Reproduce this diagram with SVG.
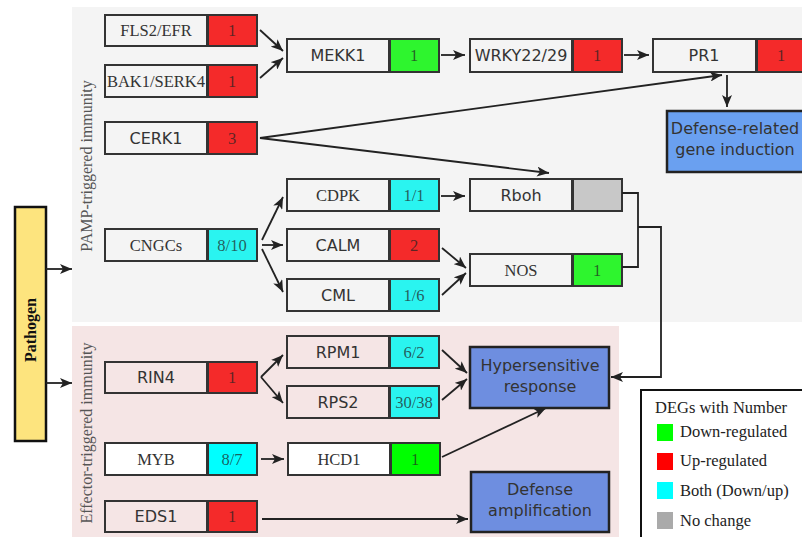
<svg xmlns="http://www.w3.org/2000/svg" width="802" height="537" viewBox="0 0 802 537">
<defs>
<style>
.bx{stroke:#333;stroke-width:2}
.nm{fill:none}
.wt{fill:#fff}
.red{fill:#f42a2a}
.grn{fill:#2ef52e}
.grn2{fill:#00ff00}
.cyn{fill:#2af4f0}
.cyn2{fill:#00ffff}
.gry{fill:#c8c8c8}
.serif{font-family:"Liberation Serif","Times New Roman",serif;font-size:16.5px;fill:#333;text-anchor:middle}
.sans{font-family:"DejaVu Sans","Liberation Sans",sans-serif;font-size:16px;fill:#333;text-anchor:middle}
.num{font-family:"Liberation Serif","Times New Roman",serif;font-size:16.5px;fill:#222;fill-opacity:0.72;text-anchor:middle}
.ln{fill:none;stroke:#222;stroke-width:1.8}
.ar{marker-end:url(#ah)}
.out{stroke:#222;stroke-width:2.5}
.lg{font-family:"Liberation Serif","Times New Roman",serif;font-size:16.5px;fill:#222}
</style>
<marker id="ah" markerUnits="userSpaceOnUse" markerWidth="14" markerHeight="10" refX="12" refY="5" orient="auto">
<path d="M0,0 L12,5 L0,10 L3,5 z" fill="#222"/>
</marker>
</defs>

<!-- panels -->
<rect x="72" y="7" width="730" height="315" fill="#f4f4f4"/>
<rect x="72" y="326" width="547" height="211" fill="#f5e5e5"/>
<text x="92" y="166" transform="rotate(-90 92 166)" font-family="Liberation Serif, serif" font-size="16" fill="#555" text-anchor="middle">PAMP-triggered immunity</text>
<text x="92" y="433" transform="rotate(-90 92 433)" font-family="Liberation Serif, serif" font-size="16" fill="#555" text-anchor="middle">Effector-triggered immunity</text>

<!-- Pathogen -->
<g id="pathogen">
<rect x="15" y="207" width="31" height="234" fill="#fde47e" stroke="#111" stroke-width="2.5"/>
<text x="36" y="330" transform="rotate(-90 36 330)" font-family="Liberation Serif, serif" font-size="16" font-weight="bold" fill="#111" text-anchor="middle">Pathogen</text>
</g>

<g id="FLS2">
<rect class="bx nm" x="105" y="15" width="102" height="31"/>
<rect class="bx red" x="208" y="15" width="49" height="31"/>
<text class="serif" x="156" y="36">FLS2/EFR</text>
<text class="num" x="232" y="36">1</text>
</g>
<g id="BAK1">
<rect class="bx nm" x="105" y="65" width="102" height="32"/>
<rect class="bx red" x="208" y="65" width="49" height="32"/>
<text class="serif" x="156" y="87">BAK1/SERK4</text>
<text class="num" x="232" y="87">1</text>
</g>
<g id="CERK1">
<rect class="bx nm" x="105" y="122" width="102" height="32"/>
<rect class="bx red" x="208" y="122" width="49" height="32"/>
<text class="sans" x="156" y="144">CERK1</text>
<text class="num" x="232" y="144">3</text>
</g>
<g id="CNGCs">
<rect class="bx nm" x="105" y="229" width="102" height="32"/>
<rect class="bx cyn" x="208" y="229" width="49" height="32"/>
<text class="serif" x="156" y="251">CNGCs</text>
<text class="num" x="232" y="251">8/10</text>
</g>
<g id="RIN4">
<rect class="bx nm" x="105" y="362" width="102" height="31"/>
<rect class="bx red" x="208" y="362" width="49" height="31"/>
<text class="sans" x="156" y="383">RIN4</text>
<text class="num" x="232" y="383">1</text>
</g>
<g id="MYB">
<rect class="bx wt" x="105" y="443" width="102" height="32"/>
<rect class="bx cyn2" x="208" y="443" width="49" height="32"/>
<text class="serif" x="156" y="465">MYB</text>
<text class="num" x="232" y="465">8/7</text>
</g>
<g id="EDS1">
<rect class="bx nm" x="105" y="501" width="102" height="31"/>
<rect class="bx red" x="208" y="501" width="49" height="31"/>
<text class="sans" x="156" y="522">EDS1</text>
<text class="num" x="232" y="522">1</text>
</g>

<g id="MEKK1">
<rect class="bx nm" x="287" y="39" width="102" height="33"/>
<rect class="bx grn" x="390" y="39" width="49" height="33"/>
<text class="sans" x="338" y="61">MEKK1</text>
<text class="num" x="414" y="61">1</text>
</g>
<g id="CDPK">
<rect class="bx nm" x="287" y="179" width="102" height="32"/>
<rect class="bx cyn" x="390" y="179" width="49" height="32"/>
<text class="serif" x="338" y="201">CDPK</text>
<text class="num" x="414" y="201">1/1</text>
</g>
<g id="CALM">
<rect class="bx nm" x="287" y="229" width="102" height="32"/>
<rect class="bx red" x="390" y="229" width="49" height="32"/>
<text class="sans" x="338" y="251">CALM</text>
<text class="num" x="414" y="251">2</text>
</g>
<g id="CML">
<rect class="bx nm" x="287" y="279" width="102" height="32"/>
<rect class="bx cyn" x="390" y="279" width="49" height="32"/>
<text class="sans" x="338" y="301">CML</text>
<text class="num" x="414" y="301">1/6</text>
</g>
<g id="RPM1">
<rect class="bx nm" x="287" y="336" width="102" height="32"/>
<rect class="bx cyn" x="390" y="336" width="49" height="32"/>
<text class="sans" x="338" y="358">RPM1</text>
<text class="num" x="414" y="358">6/2</text>
</g>
<g id="RPS2">
<rect class="bx nm" x="287" y="386" width="102" height="32"/>
<rect class="bx cyn" x="390" y="386" width="49" height="32"/>
<text class="sans" x="338" y="408">RPS2</text>
<text class="num" x="414" y="408">30/38</text>
</g>
<g id="HCD1">
<rect class="bx wt" x="288" y="443" width="102" height="32"/>
<rect class="bx grn2" x="391" y="443" width="49" height="32"/>
<text class="serif" x="339" y="465">HCD1</text>
<text class="num" x="415" y="465">1</text>
</g>

<g id="WRKY">
<rect class="bx nm" x="470" y="39" width="102" height="33"/>
<rect class="bx red" x="573" y="39" width="49" height="33"/>
<text class="sans" x="521" y="61">WRKY22/29</text>
<text class="num" x="597" y="61">1</text>
</g>
<g id="Rboh">
<rect class="bx nm" x="470" y="179" width="102" height="32"/>
<rect class="bx gry" x="573" y="179" width="49" height="32"/>
<text class="sans" x="521" y="201">Rboh</text>
</g>
<g id="NOS">
<rect class="bx nm" x="470" y="254" width="102" height="32"/>
<rect class="bx grn" x="573" y="254" width="49" height="32"/>
<text class="serif" x="521" y="276">NOS</text>
<text class="num" x="597" y="276">1</text>
</g>
<g id="PR1">
<rect class="bx nm" x="653" y="39" width="103" height="33"/>
<rect class="bx red" x="757" y="39" width="49" height="33"/>
<text class="sans" x="704" y="61">PR1</text>
<text class="num" x="781" y="61">1</text>
</g>

<g id="defense-related">
<rect x="667" y="111" width="140" height="61" fill="#6aa0f0" class="out"/>
<text class="sans" x="735" y="134">Defense-related</text>
<text class="sans" x="735" y="155">gene induction</text>
</g>
<g id="hypersensitive">
<rect x="470" y="347" width="139" height="61" fill="#6e8ee0" class="out"/>
<text class="sans" x="540" y="371">Hypersensitive</text>
<text class="sans" x="540" y="392">response</text>
</g>
<g id="defense-amp">
<rect x="471" y="472" width="138" height="60" fill="#6e8ee0" class="out"/>
<text class="sans" x="540" y="495">Defense</text>
<text class="sans" x="540" y="516">amplification</text>
</g>

<g id="connectors">
<path class="ln ar" d="M46,269 L72,269"/>
<path class="ln ar" d="M46,383 L72,383"/>
<path class="ln ar" d="M260,30 L283,51"/>
<path class="ln ar" d="M260,78 L283,58"/>
<path class="ln ar" d="M441,55 L465,55"/>
<path class="ln ar" d="M624,55 L649,55"/>
<path class="ln ar" d="M727,75 L727,107"/>
<path class="ln ar" d="M260,138 L722,75"/>
<path class="ln ar" d="M260,138 L549,173"/>
<path class="ln ar" d="M262,240 L283,197"/>
<path class="ln ar" d="M262,245 L283,245"/>
<path class="ln ar" d="M262,249 L283,292"/>
<path class="ln ar" d="M441,196 L465,196"/>
<path class="ln ar" d="M442,248 L466,268"/>
<path class="ln ar" d="M442,295 L466,273"/>
<path class="ln" d="M622,193 L638,193 L638,267 L622,267"/>
<path class="ln ar" d="M638,227 L661,227 L661,377 L611,377"/>
<path class="ln ar" d="M261,377 L283,355"/>
<path class="ln ar" d="M261,377 L283,403"/>
<path class="ln ar" d="M442,350 L467,373"/>
<path class="ln ar" d="M442,400 L467,379"/>
<path class="ln ar" d="M261,459 L284,459"/>
<path class="ln ar" d="M442,457 L546,408"/>
<path class="ln ar" d="M262,519 L468,519"/>
</g>

<g id="legend">
<rect x="641" y="390" width="164" height="150" fill="#fff" stroke="#111" stroke-width="2"/>
<text class="lg" x="655" y="413">DEGs with Number</text>
<rect x="657" y="424" width="16" height="17" fill="#00ff00"/>
<text class="lg" x="680" y="437">Down-regulated</text>
<rect x="657" y="453" width="16" height="17" fill="#ff0000"/>
<text class="lg" x="680" y="466">Up-regulated</text>
<rect x="657" y="482" width="16" height="17" fill="#00ffff"/>
<text class="lg" x="680" y="496">Both (Down/up)</text>
<rect x="657" y="512" width="16" height="17" fill="#aaaaaa"/>
<text class="lg" x="680" y="526">No change</text>
</g>
</svg>
